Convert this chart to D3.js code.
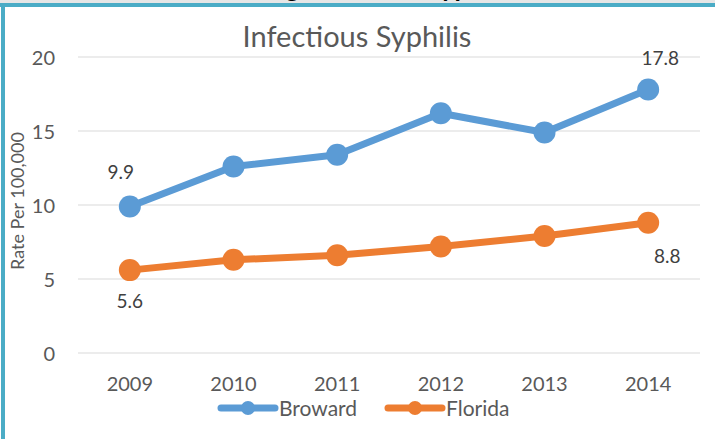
<!DOCTYPE html>
<html>
<head>
<meta charset="utf-8">
<script src="https://cdn.jsdelivr.net/npm/d3@7"></script>
<style>
  body { margin: 0; background: #fff; }
  svg { display: block; font-family: Lato, "Open Sans", sans-serif; }
  .grid line { stroke: #d9d9d9; stroke-width: 1; }
  .tick-label { fill: #595959; font-size: 20px; }
</style>
</head>
<body>
<svg id="chart" width="715" height="439"></svg>
<script>
// chart data
var years = ["2009", "2010", "2011", "2012", "2013", "2014"];
var broward = [9.9, 12.6, 13.4, 16.2, 14.9, 17.8];
var florida = [5.6, 6.3, 6.6, 7.2, 7.9, 8.8];
var yTicks = [0, 5, 10, 15, 20];
var seriesNames = ["Broward", "Florida"];
var seriesColors = ["#5b9bd5", "#ed7d31"];

var svg = d3.select("#chart");

// page frame (slide header is cut off at the top)
svg.append("rect").attr("x", 0).attr("y", 0).attr("width", 715).attr("height", 3).attr("fill", "#e6e6e6");
svg.append("text")
  .attr("x", 357).attr("y", -3)
  .attr("text-anchor", "middle")
  .style("font-size", "26px").style("font-weight", "bold").attr("fill", "#000")
  .text("Trending Infectious Syphilis");
svg.append("rect").attr("x", 0).attr("y", 3).attr("width", 715).attr("height", 4).attr("fill", "#4bacc6");
svg.append("rect").attr("x", 1).attr("y", 3).attr("width", 4).attr("height", 436).attr("fill", "#4bacc6");

var x = d3.scalePoint().domain(years).range([78, 700]).padding(0.5);
var y = d3.scaleLinear().domain([0, 20]).range([353, 57]);

// gridlines
svg.append("g").attr("class", "grid")
  .selectAll("line").data(yTicks).join("line")
  .attr("x1", 78).attr("x2", 700)
  .attr("y1", function (d) { return y(d); })
  .attr("y2", function (d) { return y(d); });

// y tick labels
svg.append("g").selectAll("text").data(yTicks).join("text")
  .attr("class", "tick-label")
  .attr("x", 55).attr("y", function (d) { return y(d) + 8; })
  .attr("text-anchor", "end")
  .text(function (d) { return d; });

// x tick labels
svg.append("g").selectAll("text").data(years).join("text")
  .attr("class", "tick-label")
  .attr("x", function (d) { return x(d); }).attr("y", 391)
  .attr("text-anchor", "middle")
  .text(function (d) { return d; });

// title
svg.append("text")
  .attr("x", 357).attr("y", 47)
  .attr("text-anchor", "middle")
  .attr("fill", "#595959")
  .style("font-size", "29px")
  .text("Infectious Syphilis");

// y axis title
svg.append("text")
  .attr("transform", "translate(24,201) rotate(-90)")
  .attr("text-anchor", "middle")
  .attr("fill", "#595959")
  .style("font-size", "18px")
  .text("Rate Per 100,000");

var line = d3.line()
  .x(function (d, i) { return x(years[i]); })
  .y(function (d) { return y(d); });

[broward, florida].forEach(function (vals, s) {
  var g = svg.append("g");
  g.append("path")
    .datum(vals)
    .attr("d", line)
    .attr("fill", "none")
    .attr("stroke", seriesColors[s])
    .attr("stroke-width", 7)
    .attr("stroke-linejoin", "round");
  g.selectAll("circle").data(vals).join("circle")
    .attr("cx", function (d, i) { return x(years[i]); })
    .attr("cy", function (d) { return y(d); })
    .attr("r", 11)
    .attr("fill", seriesColors[s]);
});

// data labels on first and last points
var labels = [
  { i: 0, v: broward[0], dx: -9, dy: -27 },
  { i: 5, v: broward[5], dx: 12, dy: -25 },
  { i: 0, v: florida[0], dx: 0, dy: 38 },
  { i: 5, v: florida[5], dx: 19, dy: 40 }
];
svg.append("g").selectAll("text").data(labels).join("text")
  .attr("x", function (d) { return x(years[d.i]) + d.dx; })
  .attr("y", function (d) { return y(d.v) + d.dy; })
  .attr("text-anchor", "middle")
  .attr("fill", "#404040")
  .style("font-size", "19px")
  .text(function (d) { return d.v.toFixed(1); });

// legend
var legendX = [218, 385];
var lg = svg.append("g").selectAll("g").data(seriesNames).join("g")
  .attr("transform", function (d, i) { return "translate(" + legendX[i] + ",408)"; });
lg.append("line")
  .attr("x1", 3).attr("x2", 57).attr("y1", 0).attr("y2", 0)
  .attr("stroke", function (d, i) { return seriesColors[i]; })
  .attr("stroke-width", 7).attr("stroke-linecap", "round");
lg.append("circle")
  .attr("cx", 30).attr("cy", 0).attr("r", 7)
  .attr("fill", function (d, i) { return seriesColors[i]; });
lg.append("text")
  .attr("x", 61).attr("y", 8)
  .attr("fill", "#595959")
  .style("font-size", "21px")
  .text(function (d) { return d; });
</script>
</body>
</html>
